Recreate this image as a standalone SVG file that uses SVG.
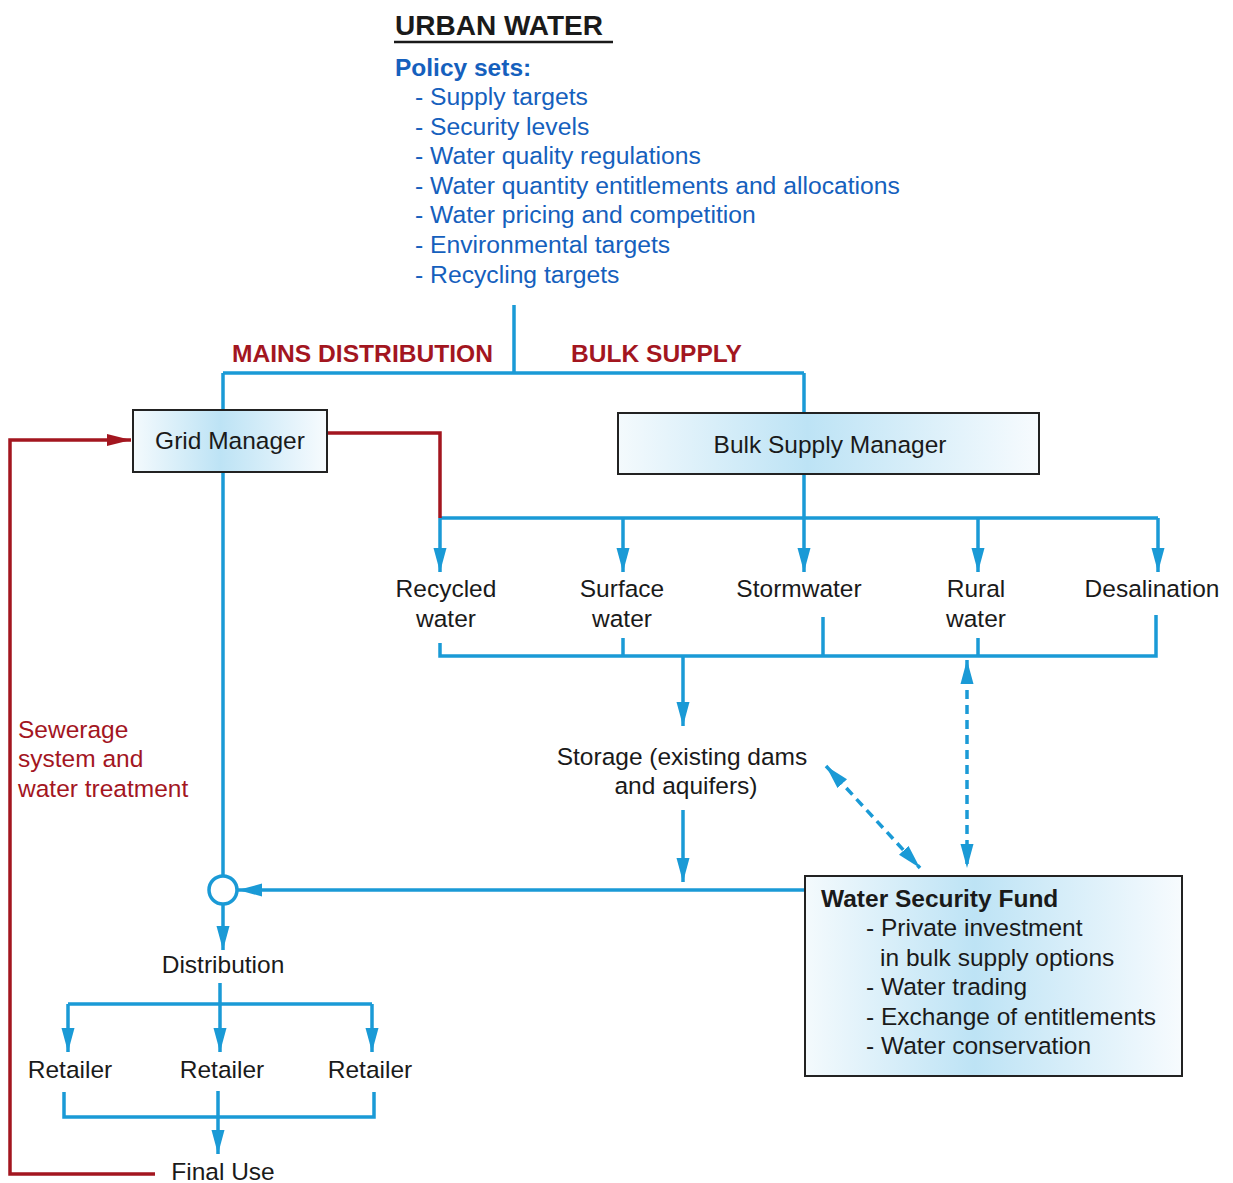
<svg xmlns="http://www.w3.org/2000/svg" width="1233" height="1183" viewBox="0 0 1233 1183">
<style>
text{font-family:"Liberation Sans",Arial,sans-serif;font-size:24.5px;fill:#1a1a1a}
.b{font-weight:bold}
.pol{fill:#1560bd;font-size:24.7px}
.red{fill:#a3161f}
.c{text-anchor:middle}
.bl{fill:none;stroke:#1a9ad6;stroke-width:3.5}
.rd{fill:none;stroke:#a3161f;stroke-width:3.5}
.ds{stroke-dasharray:9 6}
.box{stroke:#222;stroke-width:2}
</style>
<defs>
<linearGradient id="g" x1="0" y1="0" x2="1" y2="0">
<stop offset="0" stop-color="#f4fafd"/>
<stop offset="0.45" stop-color="#bde3f5"/>
<stop offset="1" stop-color="#f7fbfe"/>
</linearGradient>
<marker id="ab" markerUnits="userSpaceOnUse" markerWidth="24" markerHeight="14" refX="24" refY="7" orient="auto-start-reverse" viewBox="0 0 24 14">
<path d="M0,0.5 L24,7 L0,13.5 z" fill="#1a9ad6"/>
</marker>
<marker id="ar" markerUnits="userSpaceOnUse" markerWidth="24" markerHeight="14" refX="24" refY="7" orient="auto" viewBox="0 0 24 14">
<path d="M0,1 L24,7 L0,13 z" fill="#a3161f"/>
</marker>
</defs>

<g id="title">
<text x="395" y="35" class="b" style="font-size:28px">URBAN WATER</text>
<line x1="394" y1="42" x2="613" y2="42" stroke="#1a1a1a" stroke-width="2.5"/>
<text x="395" y="76" class="b pol" style="font-size:24.5px">Policy sets:</text>
<text x="415" y="105" class="pol">- Supply targets</text>
<text x="415" y="134.6" class="pol">- Security levels</text>
<text x="415" y="164.2" class="pol">- Water quality regulations</text>
<text x="415" y="193.8" class="pol">- Water quantity entitlements and allocations</text>
<text x="415" y="223.4" class="pol">- Water pricing and competition</text>
<text x="415" y="253" class="pol">- Environmental targets</text>
<text x="415" y="282.6" class="pol">- Recycling targets</text>
</g>

<g id="branch-labels">
<text x="232" y="362" class="b red" textLength="261" lengthAdjust="spacingAndGlyphs">MAINS DISTRIBUTION</text>
<text x="571" y="362" class="b red" textLength="171" lengthAdjust="spacingAndGlyphs">BULK SUPPLY</text>
</g>

<g id="connectors">
<path class="bl" d="M514,305 V373 M223,373 H804 M223,373 V410 M804,373 V413"/>
<path class="bl" d="M223,472 V876"/>
<path class="bl" d="M804,474 V518 M440,518 H1158"/>
<path class="bl" marker-end="url(#ab)" d="M440,518 V572"/>
<path class="bl" marker-end="url(#ab)" d="M623,518 V572"/>
<path class="bl" marker-end="url(#ab)" d="M804,518 V572"/>
<path class="bl" marker-end="url(#ab)" d="M978,518 V572"/>
<path class="bl" marker-end="url(#ab)" d="M1158,518 V572"/>
<path class="bl" d="M440,643 V656 H1156 V615 M623,638 V656 M823,617 V656 M978,638 V656"/>
<path class="bl" marker-end="url(#ab)" d="M683,656 V726"/>
<path class="bl" marker-end="url(#ab)" d="M683,810 V882"/>
<path class="bl" marker-end="url(#ab)" d="M805,890 H238"/>
<circle cx="223" cy="890" r="14" fill="#fff" stroke="#1a9ad6" stroke-width="3.5"/>
<path class="bl" marker-end="url(#ab)" d="M223,904 V950"/>
<path class="bl" d="M220,983 V1004 M68,1004 H372"/>
<path class="bl" marker-end="url(#ab)" d="M68,1004 V1052"/>
<path class="bl" marker-end="url(#ab)" d="M220,1004 V1052"/>
<path class="bl" marker-end="url(#ab)" d="M372,1004 V1052"/>
<path class="bl" d="M64,1092 V1117 H374 V1092 M218,1091 V1117"/>
<path class="bl" marker-end="url(#ab)" d="M218,1117 V1154"/>
<path class="bl ds" marker-start="url(#ab)" marker-end="url(#ab)" d="M967,660 V868"/>
<path class="bl ds" marker-start="url(#ab)" marker-end="url(#ab)" d="M826,766 L920,868"/>
<path class="rd" d="M327,433 H440 V518"/>
<path class="rd" marker-end="url(#ar)" d="M155,1174 H10 V440 H131"/>
</g>

<g id="grid-manager">
<rect x="133" y="410" width="194" height="62" fill="url(#g)" class="box"/>
<text x="230" y="449" class="c">Grid Manager</text>
</g>

<g id="bulk-supply-manager">
<rect x="618" y="413" width="421" height="61" fill="url(#g)" class="box"/>
<text x="830" y="453" class="c">Bulk Supply Manager</text>
</g>

<g id="recycled"><text x="446" y="597" class="c">Recycled</text><text x="446" y="627" class="c">water</text></g>
<g id="surface"><text x="622" y="597" class="c">Surface</text><text x="622" y="627" class="c">water</text></g>
<g id="stormwater"><text x="799" y="597" class="c">Stormwater</text></g>
<g id="rural"><text x="976" y="597" class="c">Rural</text><text x="976" y="627" class="c">water</text></g>
<g id="desalination"><text x="1152" y="597" class="c">Desalination</text></g>

<g id="storage">
<text x="682" y="765" class="c">Storage (existing dams</text>
<text x="686" y="794" class="c">and aquifers)</text>
</g>

<g id="sewerage">
<text x="18" y="738" class="red">Sewerage</text>
<text x="18" y="767" class="red">system and</text>
<text x="18" y="797" class="red">water treatment</text>
</g>

<g id="water-security-fund">
<rect x="805" y="876" width="377" height="200" fill="url(#g)" class="box"/>
<text x="821" y="907" class="b">Water Security Fund</text>
<text x="866" y="936">- Private investment</text>
<text x="880" y="966">in bulk supply options</text>
<text x="866" y="995">- Water trading</text>
<text x="866" y="1025">- Exchange of entitlements</text>
<text x="866" y="1054">- Water conservation</text>
</g>

<g id="distribution"><text x="223" y="973" class="c">Distribution</text></g>
<g id="retailer-1"><text x="70" y="1078" class="c">Retailer</text></g>
<g id="retailer-2"><text x="222" y="1078" class="c">Retailer</text></g>
<g id="retailer-3"><text x="370" y="1078" class="c">Retailer</text></g>
<g id="final-use"><text x="223" y="1180" class="c">Final Use</text></g>
</svg>
